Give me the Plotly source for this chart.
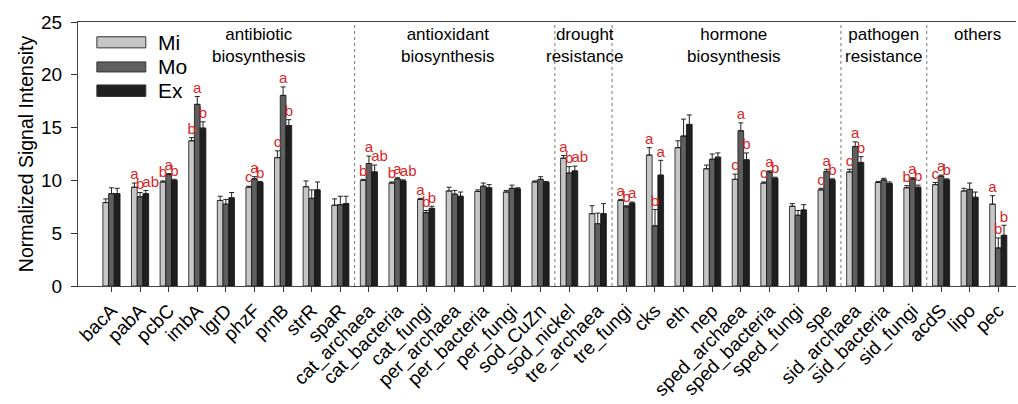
import plotly.graph_objects as go

genes = ["bacA", "pabA", "pcbC", "imbA", "lgrD", "phzF", "prnB", "strR", "spaR",
         "cat_archaea", "cat_bacteria", "cat_fungi", "per_archaea", "per_bacteria", "per_fungi", "sod_CuZn",
         "sod_nickel", "tre_archaea",
         "tre_fungi", "cks", "eth", "nep", "sped_archaea", "sped_bacteria", "sped_fungi", "spe",
         "sid_archaea", "sid_bacteria", "sid_fungi",
         "acdS", "lipo", "pec"]

mi = [7.9, 9.35, 9.85, 13.75, 8.1, 9.35, 12.15, 9.4, 7.65,
      10.0, 9.75, 8.2, 9.0, 8.95, 8.9, 9.85,
      12.1, 6.85,
      8.1, 12.4, 13.1, 11.1, 10.1, 9.75, 7.55, 9.1,
      10.8, 9.8, 9.3,
      9.6, 9.0, 7.75]
mo = [8.75, 8.45, 10.55, 17.2, 7.75, 10.15, 18.05, 8.3, 7.7,
      11.6, 10.15, 6.95, 8.7, 9.45, 9.25, 10.1,
      10.7, 5.9,
      7.5, 5.7, 14.2, 12.0, 14.7, 10.8, 6.7, 10.85,
      13.2, 10.05, 10.15,
      10.4, 9.15, 3.6]
ex = [8.75, 8.75, 10.0, 14.95, 8.35, 9.8, 15.2, 9.1, 7.8,
      10.8, 9.95, 7.35, 8.5, 9.3, 9.2, 9.8,
      10.9, 6.85,
      7.85, 10.5, 15.3, 12.2, 11.95, 10.2, 7.2, 10.05,
      11.7, 9.7, 9.35,
      10.05, 8.4, 4.8]

mi_err = [0.35, 0.4, 0.1, 0.3, 0.4, 0.1, 0.65, 0.55, 0.6,
          0.1, 0.1, 0.1, 0.35, 0.15, 0.15, 0.1,
          0.25, 0.75,
          0.1, 0.7, 0.65, 0.35, 0.5, 0.1, 0.25, 0.15,
          0.25, 0.1, 0.2,
          0.2, 0.25, 0.8]
mo_err = [0.55, 0.4, 0.1, 0.75, 0.45, 0.2, 0.8, 0.8, 0.8,
          0.7, 0.1, 0.2, 0.35, 0.3, 0.3, 0.25,
          0.6, 1.0,
          0.1, 1.55, 1.6, 0.5, 0.75, 0.1, 0.45, 0.2,
          0.45, 0.15, 0.1,
          0.1, 0.6, 0.95]
ex_err = [0.5, 0.3, 0.1, 0.6, 0.5, 0.1, 0.55, 0.75, 0.7,
          0.65, 0.1, 0.2, 0.4, 0.3, 0.1, 0.1,
          0.45, 0.95,
          0.1, 1.4, 0.9, 0.4, 0.65, 0.1, 0.5, 0.1,
          0.55, 0.15, 0.2,
          0.1, 0.5, 0.95]

mi_let = ["", "a", "b", "b", "", "c", "c", "", "",
          "b", "b", "a", "", "", "", "",
          "a", "",
          "a", "a", "", "", "c", "c", "", "c",
          "c", "", "b",
          "c", "", "a"]
mo_let = ["", "b", "a", "a", "", "a", "a", "", "",
          "a", "a", "b", "", "", "", "",
          "b", "",
          "b", "b", "", "", "a", "a", "", "a",
          "a", "", "a",
          "a", "", "b"]
ex_let = ["", "ab", "b", "b", "", "b", "b", "", "",
          "ab", "ab", "b", "", "", "", "",
          "ab", "",
          "a", "a", "", "", "b", "b", "", "b",
          "b", "", "b",
          "b", "", "b"]

groups = ["antibiotic<br>biosynthesis", "antioxidant<br>biosynthesis", "drought<br>resistance",
          "hormone<br>biosynthesis", "pathogen<br>resistance", "others"]
group_label_x = [5.15, 11.76, 16.55, 21.76, 27.0, 30.28]
separators = [8.5, 15.5, 17.5, 25.5, 28.5]

series = [("Mi", mi, mi_err, mi_let, "#c6c6c6", -0.2),
          ("Mo", mo, mo_err, mo_let, "#5f5f5f", 0.0),
          ("Ex", ex, ex_err, ex_let, "#1f1f1f", 0.2)]

FONT = "Liberation Sans, Arial, sans-serif"
idx = list(range(len(genes)))

fig = go.Figure()
for name, vals, errs, lets, col, off in series:
    xs = [i + off for i in idx]
    fig.add_trace(go.Bar(
        x=xs, y=vals, width=0.2, name=name, showlegend=False,
        marker=dict(color=col, line=dict(color="#111111", width=0.8)),
        error_y=dict(type="data", array=errs, arrayminus=[0] * len(errs), symmetric=False,
                     color="#222222", thickness=1, width=2.5),
    ))
    pos = ["top right" if len(t) > 1 else "top center" for t in lets]
    fig.add_trace(go.Scatter(
        x=[x - 0.12 if len(t) > 1 else x for x, t in zip(xs, lets)],
        y=[v + e for v, e in zip(vals, errs)], mode="text", text=lets,
        textposition=pos, showlegend=False, hoverinfo="skip",
        textfont=dict(color="#d62728", size=15, family=FONT),
    ))

shapes = []
for s in separators:
    shapes.append(dict(type="line", xref="x", yref="y", x0=s, x1=s, y0=0, y1=25,
                       line=dict(color="#777777", width=1, dash="dot")))

# custom legend (large swatches like the original)
leg_y = [(23.6, 22.55), (21.22, 20.27), (19.04, 17.95)]
annotations = []
for (name, vals, errs, lets, col, off), (ya, yb) in zip(series, leg_y):
    shapes.append(dict(type="rect", xref="x", yref="y", x0=-0.51, x1=1.2, y0=yb, y1=ya,
                       fillcolor=col, line=dict(color="#333333", width=1)))
    annotations.append(dict(x=1.55, y=(ya + yb) / 2, xref="x", yref="y", text=name,
                            showarrow=False, xanchor="left", yanchor="middle",
                            font=dict(size=21, color="black", family=FONT)))

for g, gx in zip(groups, group_label_x):
    annotations.append(dict(x=gx, y=24.9, xref="x", yref="y", text=g, showarrow=False,
                            xanchor="center", yanchor="top",
                            font=dict(size=17, color="black", family=FONT)))

fig.update_layout(
    width=1018, height=404,
    margin=dict(l=78, r=2, t=22, b=118),
    plot_bgcolor="white", paper_bgcolor="white",
    barmode="overlay",
    shapes=shapes, annotations=annotations,
    font=dict(family=FONT, color="black"),
    xaxis=dict(range=[-1.17, 31.62], tickmode="array", tickvals=idx, ticktext=genes,
               tickangle=-45, tickfont=dict(size=19), ticks="outside", ticklen=5,
               tickcolor="#333333", showline=True, linecolor="#444444", linewidth=1.2,
               mirror=True, showgrid=False, zeroline=False),
    yaxis=dict(range=[0, 25], tickvals=[0, 5, 10, 15, 20, 25], tickfont=dict(size=19),
               ticks="outside", ticklen=6, tickcolor="#333333", showline=True,
               linecolor="#444444", linewidth=1.2, showgrid=False, zeroline=False,
               ticklabelstandoff=5,
               title=dict(text="Normalized Signal Intensity", font=dict(size=19.5), standoff=2)),
)

fig.write_html("out.html")
